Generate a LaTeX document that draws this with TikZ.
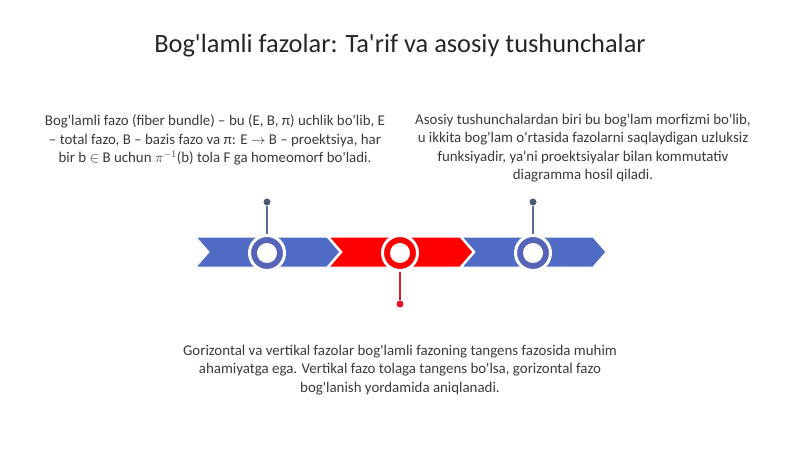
\documentclass[tikz,border=0pt]{standalone}
\usepackage{fontspec}
\setmainfont{Carlito}
\usepackage{xcolor}
\usetikzlibrary{positioning}
\definecolor{bandblue}{HTML}{4F6BC4}
\definecolor{ringblue}{HTML}{5664B8}
\definecolor{stemblue}{HTML}{5B6C9E}
\definecolor{dotblue}{HTML}{4B5878}
\definecolor{bandred}{HTML}{FF0000}
\definecolor{stemred}{HTML}{E8102A}
\definecolor{textgrey}{HTML}{3A3A3A}
\newcommand{\ap}{\textquotesingle}
\begin{document}
\begin{tikzpicture}[x=1pt,y=-1pt,
    txt/.style={align=center,text=textgrey,font=\fontsize{14.9}{18.5}\selectfont},
    ring/.style={circle,draw=white,line width=3pt,fill=#1,minimum size=35pt,inner sep=0pt},
    hole/.style={circle,fill=white,minimum size=20pt,inner sep=0pt},
    dot/.style={circle,fill=#1,minimum size=7pt,inner sep=0pt}]
  \useasboundingbox (0,0) rectangle (800,449);
  % title
  \node[font=\fontsize{26.4}{30}\selectfont,text=black!85] (title) at (400,46)
    {Bog\ap lamli fazolar: Ta\ap rif va asosiy tushunchalar};
  % band
  \foreach \x/\c in {196/bandblue,329/bandred,462/bandblue}
    \fill[\c,draw=white,line width=1pt] (\x,237) -- ++(131,0) -- ++(13,15) -- ++(-13,15)
      -- ++(-131,0) -- ++(13,-15) -- cycle;
  % circles
  \node[ring=ringblue] (c1) at (267,253) {};
  \node[ring=bandred] (c2) at (400,253) {};
  \node[ring=ringblue] (c3) at (533,253) {};
  \node[hole] at (c1) {};
  \node[hole] at (c2) {};
  \node[hole] at (c3) {};
  \node[dot=dotblue] (d1) at (267,202) {};
  \node[dot=stemred] (d2) at (400,304) {};
  \node[dot=dotblue] (d3) at (533,202) {};
  \draw[stemblue,line width=1.2pt] (d1) -- (c1);
  \draw[stemred,line width=1.2pt] (d2) -- (c2);
  \draw[stemblue,line width=1.2pt] (d3) -- (c3);
  % texts
  \node[txt] (t1) at (215,140)
    {Bog\ap lamli fazo (fiber bundle) – bu (E, B, π) uchlik bo\ap lib, E\\
     – total fazo, B – bazis fazo va π: E $\rightarrow$ B – proektsiya, har\\
     bir b $\in$ B uchun $\pi^{-1}$(b) tola F ga homeomorf bo\ap ladi.};
  \node[txt] (t2) at (583,148)
    {Asosiy tushunchalardan biri bu bog\ap lam morfizmi bo\ap lib,\\
     u ikkita bog\ap lam o\ap rtasida fazolarni saqlaydigan uzluksiz\\
     funksiyadir, ya\ap ni proektsiyalar bilan kommutativ\\
     diagramma hosil qiladi.};
  \node[txt] (t3) at (400,370)
    {Gorizontal va vertikal fazolar bog\ap lamli fazoning tangens fazosida muhim\\
     ahamiyatga ega. Vertikal fazo tolaga tangens bo\ap lsa, gorizontal fazo\\
     bog\ap lanish yordamida aniqlanadi.};
\end{tikzpicture}
\end{document}
